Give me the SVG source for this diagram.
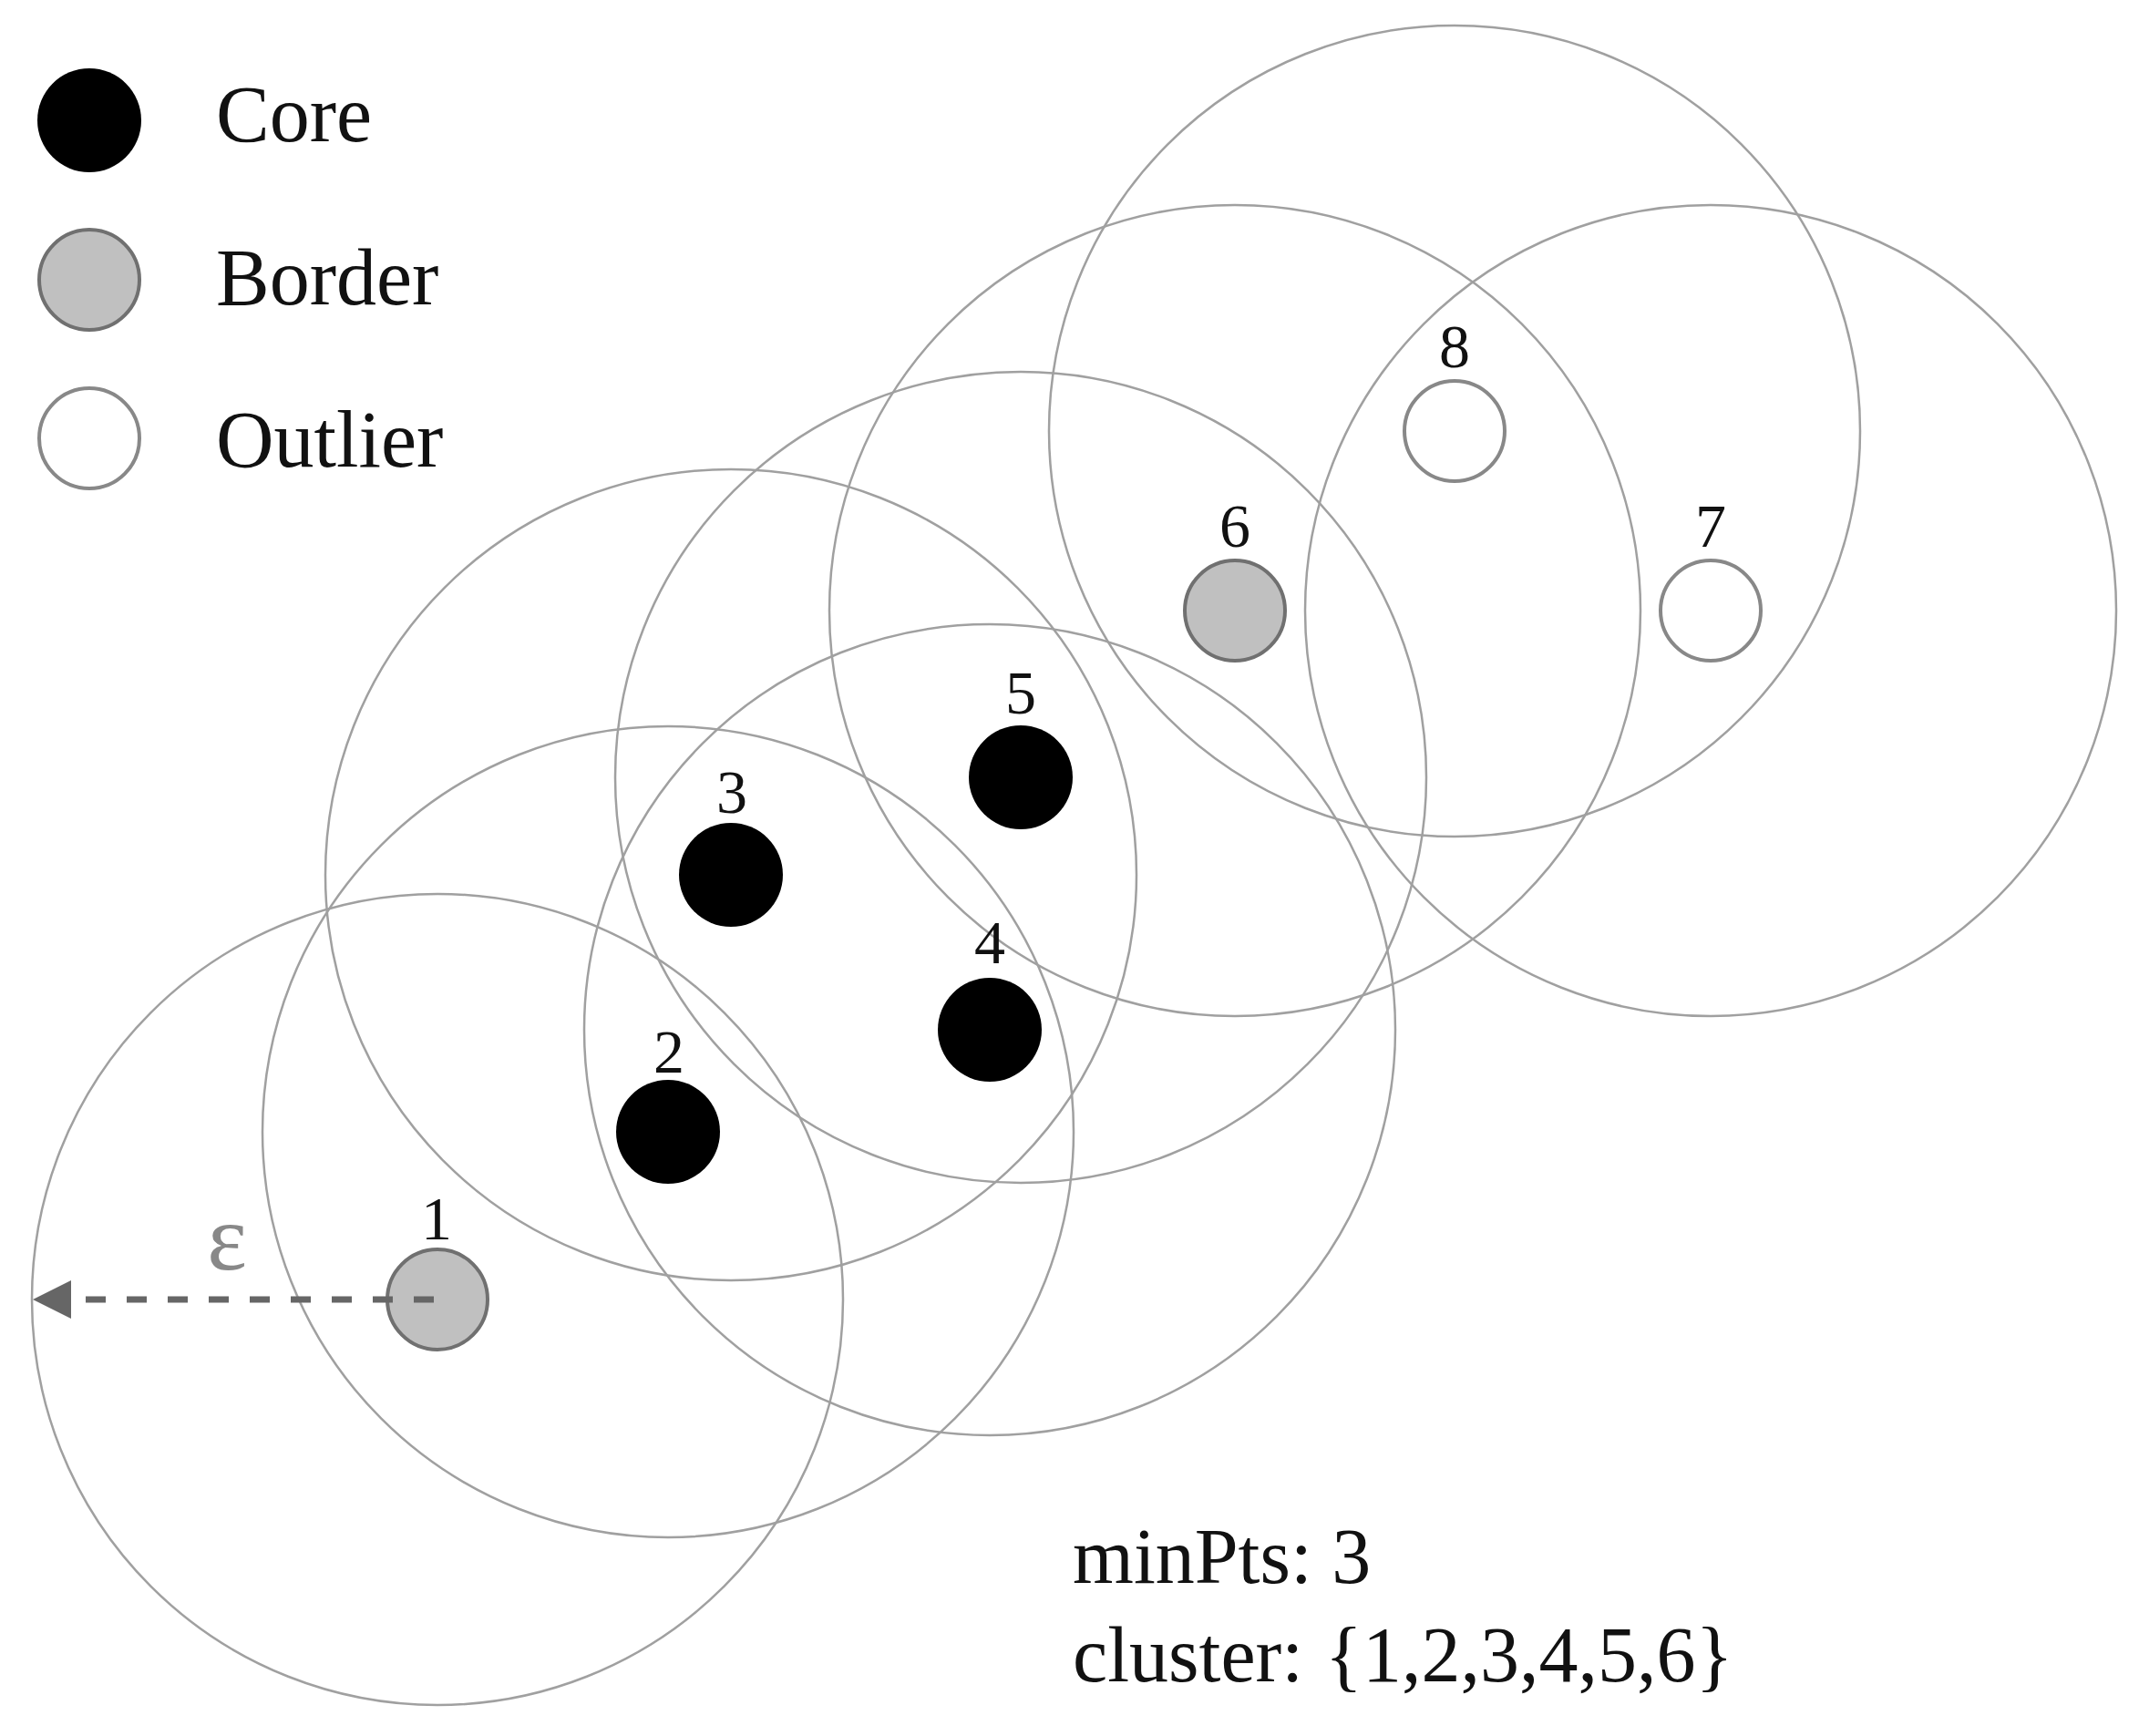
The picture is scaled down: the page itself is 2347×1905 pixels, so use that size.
<svg xmlns="http://www.w3.org/2000/svg" width="2347" height="1905" viewBox="0 0 2347 1905">
  <style>
    .eps { fill: none; stroke: #a0a0a0; stroke-width: 2.5; }
    .core { fill: #000; }
    .border { fill: #c0c0c0; stroke: #707070; stroke-width: 4; }
    .outlier { fill: #fff; stroke: #888; stroke-width: 4; }
    .lbl { font-family: "Liberation Serif", "Times New Roman", serif; font-size: 68px; fill: #111; text-anchor: middle; }
    .txt { font-family: "Liberation Serif", "Times New Roman", serif; font-size: 88px; fill: #111; }
    .note { font-family: "Liberation Serif", "Times New Roman", serif; font-size: 86px; fill: #111; }
  </style>
  <rect width="2347" height="1905" fill="#fff"/>

  <g id="neighborhoods">
    <circle class="eps" cx="480" cy="1426" r="445"/>
    <circle class="eps" cx="733" cy="1242" r="445"/>
    <circle class="eps" cx="802" cy="960" r="445"/>
    <circle class="eps" cx="1086" cy="1130" r="445"/>
    <circle class="eps" cx="1120" cy="853" r="445"/>
    <circle class="eps" cx="1355" cy="670" r="445"/>
    <circle class="eps" cx="1877" cy="670" r="445"/>
    <circle class="eps" cx="1596" cy="473" r="445"/>
  </g>

  <g id="legend">
    <g id="legend-core">
      <circle class="core" cx="98" cy="132" r="57"/>
      <text class="txt" x="237" y="155">Core</text>
    </g>
    <g id="legend-border">
      <circle class="border" cx="98" cy="307" r="55"/>
      <text class="txt" x="237" y="334">Border</text>
    </g>
    <g id="legend-outlier">
      <circle class="outlier" cx="98" cy="481" r="55"/>
      <text class="txt" x="237" y="512">Outlier</text>
    </g>
  </g>

  <g id="node-1">
    <circle class="border" cx="480" cy="1426" r="55"/>
    <text class="lbl" x="479" y="1360">1</text>
  </g>
  <g id="node-2">
    <circle class="core" cx="733" cy="1242" r="57"/>
    <text class="lbl" x="734" y="1177">2</text>
  </g>
  <g id="node-3">
    <circle class="core" cx="802" cy="960" r="57"/>
    <text class="lbl" x="803" y="892">3</text>
  </g>
  <g id="node-4">
    <circle class="core" cx="1086" cy="1130" r="57"/>
    <text class="lbl" x="1086" y="1057">4</text>
  </g>
  <g id="node-5">
    <circle class="core" cx="1120" cy="853" r="57"/>
    <text class="lbl" x="1120" y="783">5</text>
  </g>
  <g id="node-6">
    <circle class="border" cx="1355" cy="670" r="55"/>
    <text class="lbl" x="1355" y="600">6</text>
  </g>
  <g id="node-7">
    <circle class="outlier" cx="1877" cy="670" r="55"/>
    <text class="lbl" x="1877" y="600">7</text>
  </g>
  <g id="node-8">
    <circle class="outlier" cx="1596" cy="473" r="55"/>
    <text class="lbl" x="1596" y="403">8</text>
  </g>

  <g id="connectors">
    <line x1="476" y1="1426" x2="80" y2="1426" stroke="#666" stroke-width="7" stroke-dasharray="22 23"/>
    <polygon points="36,1426 78,1405 78,1447" fill="#666"/>
    <text x="249" y="1393" font-family="Liberation Serif, Times New Roman, serif" font-size="104" fill="#888" text-anchor="middle">ε</text>
  </g>

  <g id="notes">
    <text class="note" x="1177" y="1737">minPts: 3</text>
    <text class="note" x="1177" y="1845">cluster: <tspan dx="2">{1,2,3,4,5,6}</tspan></text>
  </g>
</svg>
